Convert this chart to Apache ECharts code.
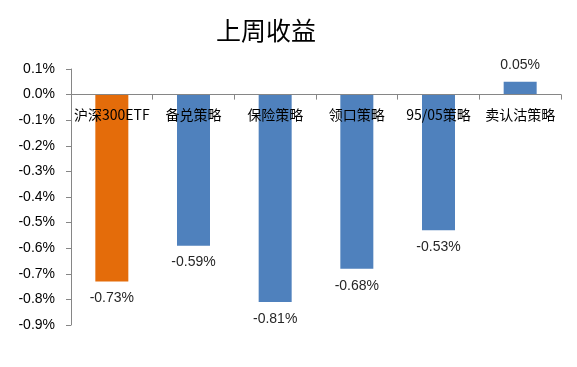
<!DOCTYPE html>
<html><head><meta charset="utf-8">
<script src="https://cdn.jsdelivr.net/npm/echarts@6/dist/echarts.min.js"></script>
<style>html,body{margin:0;padding:0;background:#fff}#c{width:577px;height:367px}</style>
</head><body><div id="c"></div>
<script>
const categories = ['沪深300ETF','备兑策略','保险策略','领口策略','95/05策略','卖认沽策略'];
const values = [-0.73, -0.59, -0.81, -0.68, -0.53, 0.05];
const barColors = ['#E46C0A','#4F81BD','#4F81BD','#4F81BD','#4F81BD','#4F81BD'];
const titleText = '上周收益';
const yMin = -0.9, yMax = 0.1, yStep = 0.1;

const chart = echarts.init(document.getElementById('c'));
const option = {
  animation: false,
  backgroundColor: '#fff',
  title: {
    text: titleText, left: 211, top: 13,
    textStyle: {fontFamily: 'Noto Sans CJK SC', fontSize: 25, fontWeight: 'normal', color: '#000'}
  },
  grid: {left: 71, right: 16, top: 69, bottom: 42},
  xAxis: {
    type: 'category', data: categories, z: 5, offset: 0,
    axisLine: {show: true, onZero: false, lineStyle: {color: '#868686'}},
    axisTick: {show: true, length: 5, inside: false, lineStyle: {color: '#868686'}},
    axisLabel: {interval: 0, fontFamily: 'Noto Sans CJK SC', fontSize: 14, color: '#000', margin: 13}
  },
  yAxis: {
    type: 'value', min: yMin, max: yMax, interval: yStep,
    splitLine: {show: false},
    axisLine: {show: true, lineStyle: {color: '#868686'}},
    axisTick: {show: true, length: 5, lineStyle: {color: '#868686'}},
    axisLabel: {fontFamily: 'Liberation Sans', fontSize: 14, color: '#000', margin: 16,
      formatter: v => (Math.round(v*10)/10).toFixed(1) + '%'}
  },
  series: [{
    type: 'bar', barWidth: 33,
    data: values.map((v, i) => ({
      value: v,
      itemStyle: {color: barColors[i]},
      label: {position: v >= 0 ? 'top' : 'bottom'}
    })),
    label: {show: true, distance: 10, fontFamily: 'Liberation Sans', fontSize: 14, color: '#262626',
      formatter: p => p.value.toFixed(2) + '%'}
  }]
};
chart.setOption(option);
// move the category axis to the zero line using the library's own scale
const zeroY = chart.convertToPixel({yAxisIndex: 0}, 0);
const bottomY = chart.convertToPixel({yAxisIndex: 0}, yMin);
chart.setOption({xAxis: {offset: zeroY - bottomY}});
</script></body></html>
